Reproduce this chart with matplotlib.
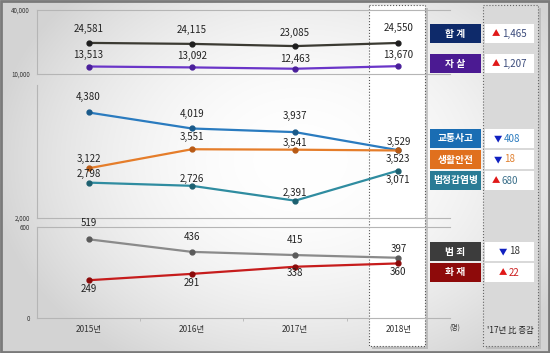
import numpy as np
import matplotlib.pyplot as plt
from matplotlib.patches import Rectangle

plt.rcParams['font.family'] = ['Noto Sans CJK KR', 'DejaVu Sans']

# data
years = ['2015년', '2016년', '2017년', '2018년']
total = [24581, 24115, 23085, 24550]
suicide = [13513, 13092, 12463, 13670]
traffic = [4380, 4019, 3937, 3529]
safety = [3122, 3551, 3541, 3523]
infect = [2798, 2726, 2391, 3071]
crime = [519, 436, 415, 397]
fire = [249, 291, 338, 360]

names = ['합 계', '자 살', '교통사고', '생활안전', '법정감염병', '범 죄', '화 재']
change = [1465, 1207, -408, -18, 680, -18, 22]

W, H = 550, 353
fig = plt.figure(figsize=(W / 100, H / 100), dpi=100)


def px_axes(x0, y0, x1, y1):
    return fig.add_axes([x0 / W, 1 - y1 / H, (x1 - x0) / W, (y1 - y0) / H])


# background + decorations
bg = fig.add_axes([0, 0, 1, 1])
bg.set_xlim(0, W)
bg.set_ylim(H, 0)
bg.axis('off')
yy, xx = np.mgrid[0:H, 0:W]
d = np.sqrt(((xx - 300) / 310.0) ** 2 + ((yy - 160) / 240.0) ** 2)
val = 1 - 0.17 * np.clip(d, 0, 1) ** 2
bg.imshow(np.dstack([val, val, val]), extent=(0, W, H, 0), aspect='auto', zorder=0)
bg.add_patch(Rectangle((1, 1), W - 2, H - 2, fill=False, ec='#7a7a7a', lw=2, zorder=1))

# 2018 highlight box
bg.add_patch(Rectangle((372, 8), 56, 341, fc='#9a9a9a', ec='none', alpha=0.5, zorder=1))
bg.add_patch(Rectangle((369, 5), 56, 341, fc='white', ec='#555555', ls=':', lw=0.8, zorder=2))
# right column
bg.add_patch(Rectangle((486, 8), 55, 341, fc='#9a9a9a', ec='none', alpha=0.4, zorder=1))
bg.add_patch(Rectangle((483, 5), 55, 341, fc='#d9d9d9', ec='#666666', ls=':', lw=0.8, zorder=2))

# data axes
top = px_axes(37, 10, 450, 74)
mid = px_axes(37, 85, 450, 218)
bot = px_axes(37, 227, 450, 318)
top.set_ylim(10000, 40000)
mid.set_ylim(2000, 5000)
bot.set_ylim(0, 600)

for ax, ticks in [(top, [10000, 40000]), (mid, [2000]), (bot, [0, 600])]:
    ax.set_facecolor('none')
    ax.set_xlim(-0.5, 3.5)
    ax.spines['right'].set_visible(False)
    for s in ax.spines.values():
        s.set_color('#b5b5b5')
        s.set_linewidth(0.8)
    ax.set_yticks(ticks)
    ax.set_yticklabels([f'{t:,}' for t in ticks])
    ax.tick_params(axis='y', length=0, labelsize=4.5, pad=5, labelcolor='#333333')
    ax.set_xticks([])
mid.spines['top'].set_visible(False)

bot.set_xticks(range(4))
bot.set_xticklabels(years)
bot.set_xticks([0.5, 1.5, 2.5], minor=True)
bot.tick_params(axis='x', which='major', length=0, labelsize=6, pad=5, labelcolor='#333333')
bot.tick_params(axis='x', which='minor', length=2, color='#b5b5b5')

series = [
    (top, total, '#3b3a32', '#1e1e1e', [14, 14, 13, 15]),
    (top, suicide, '#6a35c8', '#4a1f9a', [12, 11, 10, 11]),
    (mid, traffic, '#2a7bbf', '#1a5a8a', [16, 15, 16, 8]),
    (mid, safety, '#e57d2a', '#b85a15', [9, 12, 7, -9]),
    (mid, infect, '#2f8ca0', '#1d6070', [9, 7, 8, -9]),
    (bot, crime, '#8a8a8a', '#5a5a5a', [16, 15, 15, 9]),
    (bot, fire, '#c61c1c', '#8a0a0a', [-9, -9, -6, -9]),
]
x = np.arange(len(years))
for ax, vals, c, cd, offs in series:
    ax.plot(x, vals, color=c, lw=1.6, marker='o', ms=3.5, mfc=cd, mec=cd, zorder=3)
    for i, v in enumerate(vals):
        ax.annotate(f'{v:,}', (i, v), xytext=(0, offs[i]), textcoords='offset pixels',
                    ha='center', va='center', fontsize=7, color='#222222',
                    annotation_clip=False, zorder=4)

# legend label boxes and change values
row_y = [24, 54, 129, 150, 171, 242, 263]
box_colors = ['#0e2a6a', '#4b1a92', '#1a6db3', '#e0701e', '#2a7b95', '#3c3c3c', '#8e0a0a']
num_colors = ['#3a4a7a', '#3a4a7a', '#2a7bbf', '#e08030', '#3a6f8a', '#333333', '#cc2020']
tri_x = [496, 496, 498, 498, 496, 503, 503]
for k, name in enumerate(names):
    y0 = row_y[k]
    bg.add_patch(Rectangle((430, y0), 51, 19, fc=box_colors[k], ec='none', zorder=3))
    bg.text(455.5, y0 + 9.5, name, ha='center', va='center', color='white',
            fontsize=7, fontweight='bold', zorder=4)
    bg.add_patch(Rectangle((485, y0), 49, 19, fc='white', ec='none', zorder=3))
    up = change[k] > 0
    bg.text(tri_x[k], y0 + 9.5, '▲' if up else '▼', ha='center', va='center',
            color='#e01818' if up else '#1020c0', fontsize=6, zorder=4)
    bg.text(tri_x[k] + 6, y0 + 9.5, f'{abs(change[k]):,}', ha='left', va='center',
            color=num_colors[k], fontsize=7, zorder=4)

bg.text(455, 328, '(명)', ha='center', va='center', fontsize=5, color='#333333', zorder=4)
bg.text(510, 331, "'17년 比 증감", ha='center', va='center', fontsize=6, color='#222222', zorder=4)

fig.savefig('out.png', dpi=100)
